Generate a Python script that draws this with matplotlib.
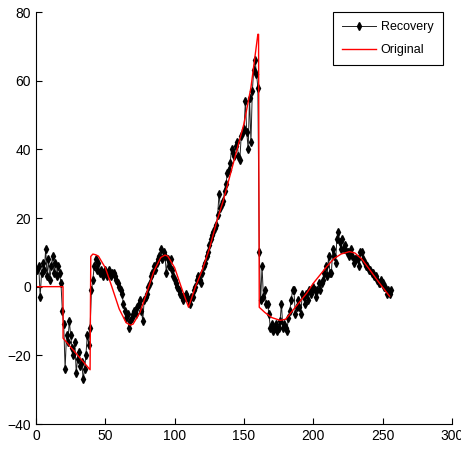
import matplotlib
matplotlib.use("Agg")
import matplotlib.pyplot as plt
import numpy as np

plt.rcParams['font.family'] = ['Liberation Sans', 'DejaVu Sans']

# Recovery series (x = 1..256)
recovery = [
    5, 6, -3, 4, 7, 5, 11, 3, 8, 2,
    6, 9, 4, 7, 3, 6, 4, 1, -7, -11,
    -24, -14, -16, -10, -14, -18, -20, -16, -25, -21,
    -19, -23, -22, -27, -24, -20, -14, -17, -12, -1,
    2, 6, 8, 5, 7, 4, 5, 3, 4, 5,
    3, 4, 5, 3, 4, 4, 3, 2, 1, 0,
    -1, -2, -5, -7, -9, -8, -12, -10, -9, -8,
    -7, -8, -6, -5, -4, -7, -10, -4, -3, -2,
    0, 1, 3, 4, 6, 5, 7, 8, 9, 11,
    8, 10, 9, 4, 8, 6, 8, 5, 3, 2,
    1, 0, -1, -2, -3, -4, -3, -2, -3, -4,
    -5, -3, -3, -1, 0, 2, 3, 2, 1, 4,
    6, 7, 9, 10, 12, 14, 15, 16, 17, 18,
    21, 27, 23, 24, 25, 28, 30, 33, 34, 36,
    40, 39, 38, 41, 42, 38, 37, 44, 45, 46,
    54, 45, 40, 55, 42, 57, 63, 66, 62, 58,
    10, -4, 6, -3, -1, -5, -5, -8, -12, -11,
    -13, -12, -11, -13, -12, -10, -5, -12, -11, -12,
    -13, -9, -7, -4, -1, -1, -8, -6, -4, -6,
    -8, -2, -3, -5, -2, -4, -1, -2, -1, 0,
    -1, -3, -1, 1, -1, 1, 2, 4, 6, 3,
    9, 4, 4, 11, 9, 7, 14, 16, 13, 11,
    14, 11, 12, 10, 10, 9, 11, 9, 7, 8,
    8, 8, 6, 10, 10, 8, 7, 6, 6, 5,
    5, 4, 4, 3, 3, 2, 1, 1, 2, 1,
    0, 0, -2, -1, -2, -1,
]
recovery_x = list(range(1, len(recovery) + 1))

# Original signal (polyline)
original_x = [1, 19.5, 19.5, 39, 39.5, 41, 43, 45, 50, 55, 60, 65, 68, 70, 75, 80, 85, 90, 93,
              95, 100, 105, 110, 115, 120, 125, 130, 135, 140, 145, 150, 155, 160, 160.5,
              161, 165, 170, 176, 180, 186, 190, 195, 200, 205, 210, 215, 220, 226, 230,
              235, 240, 245, 250, 255]
original_y = [0, 0, -15, -24.2, 8.8, 9.5, 9.3, 8.9, 5.5, -0.4, -6.5, -10.5, -11.2, -10.9, -7.5,
              -1.6, 4.5, 8.5, 9.2, 8.9, 5.5, -0.4, -6, 0, 5, 11, 18.5, 25, 32.5, 40, 47.5,
              58, 73.5, 73.5, -6, -7.5, -9, -9.8, -9.5, -6.5, -4.5, -2, 1, 3.5, 6, 8.2,
              9.5, 10.2, 9.8, 8, 5.3, 2.5, -0.2, -2.8]

x_ticks = [0, 50, 100, 150, 200, 250, 300]
y_ticks = [-40, -20, 0, 20, 40, 60, 80]

fig = plt.figure(figsize=(4.61, 4.49), dpi=100)
ax = fig.add_axes([36 / 461, 25 / 449, 416 / 461, 412 / 449])

ax.plot(recovery_x, recovery, color='#222222', lw=0.7, marker='d', markersize=3.8,
        markerfacecolor='k', markeredgecolor='k', label='Recovery')
ax.plot(original_x, original_y, color='r', lw=1.0, label='Original')

ax.set_xlim(0, 300)
ax.set_ylim(-40, 80)
ax.set_xticks(x_ticks)
ax.set_yticks(y_ticks)
ax.spines['top'].set_visible(False)
ax.spines['right'].set_visible(False)
ax.tick_params(direction='in', length=4, labelsize=10, width=0.8)

leg = ax.legend(loc='upper right', bbox_to_anchor=(0.9775, 1.0), fontsize=9,
                fancybox=False, framealpha=1, edgecolor='k', handlelength=2.7,
                handletextpad=0.4, borderpad=0.75, labelspacing=0.85,
                borderaxespad=0.0)
leg.get_frame().set_linewidth(0.8)

fig.savefig('out.png', dpi=100)
